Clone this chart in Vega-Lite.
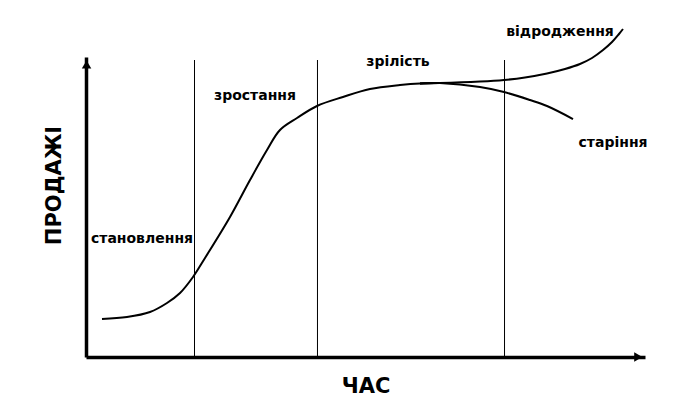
{
  "$schema": "https://vega.github.io/schema/vega-lite/v6.json",
  "width": 559,
  "height": 300,
  "padding": {"left": 86, "top": 57, "right": 50, "bottom": 46},
  "autosize": {"type": "none"},
  "background": "white",
  "config": {"view": {"stroke": null}},
  "datasets": {
    "curve": [
      {"branch": "main", "k": 1, "t": 2.86, "s": 12.67},
      {"branch": "main", "k": 2, "t": 7.33, "s": 13.33},
      {"branch": "main", "k": 3, "t": 11.45, "s": 15.0},
      {"branch": "main", "k": 4, "t": 14.49, "s": 18.0},
      {"branch": "main", "k": 5, "t": 16.82, "s": 21.33},
      {"branch": "main", "k": 6, "t": 19.14, "s": 26.67},
      {"branch": "main", "k": 7, "t": 21.29, "s": 33.0},
      {"branch": "main", "k": 8, "t": 25.76, "s": 46.67},
      {"branch": "main", "k": 9, "t": 29.34, "s": 59.0},
      {"branch": "main", "k": 10, "t": 32.38, "s": 69.0},
      {"branch": "main", "k": 11, "t": 34.7, "s": 75.67},
      {"branch": "main", "k": 12, "t": 37.75, "s": 79.67},
      {"branch": "main", "k": 13, "t": 41.32, "s": 83.67},
      {"branch": "main", "k": 14, "t": 45.97, "s": 86.67},
      {"branch": "main", "k": 15, "t": 50.8, "s": 89.33},
      {"branch": "main", "k": 16, "t": 56.17, "s": 90.67},
      {"branch": "main", "k": 17, "t": 59.75, "s": 91.2},
      {"branch": "main", "k": 18, "t": 63.3, "s": 91.3},
      {"branch": "revival", "k": 1, "t": 59.75, "s": 91.2},
      {"branch": "revival", "k": 2, "t": 63.3, "s": 91.3},
      {"branch": "revival", "k": 3, "t": 70.48, "s": 91.8},
      {"branch": "revival", "k": 4, "t": 74.78, "s": 92.33},
      {"branch": "revival", "k": 5, "t": 78.53, "s": 93.17},
      {"branch": "revival", "k": 6, "t": 82.47, "s": 94.5},
      {"branch": "revival", "k": 7, "t": 85.69, "s": 96.0},
      {"branch": "revival", "k": 8, "t": 88.37, "s": 97.67},
      {"branch": "revival", "k": 9, "t": 90.52, "s": 99.67},
      {"branch": "revival", "k": 10, "t": 92.49, "s": 102.33},
      {"branch": "revival", "k": 11, "t": 94.1, "s": 105.0},
      {"branch": "revival", "k": 12, "t": 95.35, "s": 107.67},
      {"branch": "revival", "k": 13, "t": 96.06, "s": 109.33},
      {"branch": "aging", "k": 1, "t": 59.75, "s": 91.2},
      {"branch": "aging", "k": 2, "t": 63.3, "s": 91.3},
      {"branch": "aging", "k": 3, "t": 70.48, "s": 90.0},
      {"branch": "aging", "k": 4, "t": 74.78, "s": 88.33},
      {"branch": "aging", "k": 5, "t": 79.43, "s": 85.67},
      {"branch": "aging", "k": 6, "t": 82.47, "s": 83.67},
      {"branch": "aging", "k": 7, "t": 87.12, "s": 79.33}
    ],
    "stages": [
      {"t": 19.41, "s0": 0, "s1": 99},
      {"t": 41.41, "s0": 0, "s1": 99},
      {"t": 74.87, "s0": 0, "s1": 99}
    ],
    "labels": [
      {"label": "становлення", "t": 10.02, "s": 39.5},
      {"label": "зростання", "t": 30.23, "s": 87.0},
      {"label": "зрілість", "t": 55.81, "s": 98.33},
      {"label": "відродження", "t": 84.8, "s": 108.33},
      {"label": "старіння", "t": 94.28, "s": 71.33}
    ],
    "arrows": [
      {"t": 0.1, "s": 97.5, "dir": "up"},
      {"t": 98.8, "s": 0, "dir": "right"}
    ]
  },
  "layer": [
    {
      "data": {"name": "stages"},
      "mark": {"type": "rule", "color": "black", "strokeWidth": 1, "clip": false},
      "encoding": {
        "x": {"field": "t", "type": "quantitative", "scale": {"domain": [0, 100], "nice": false},
          "axis": {"title": "ЧАС", "domain": true, "domainColor": "black", "domainWidth": 3.5, "ticks": false, "labels": false, "grid": false,
            "titleFont": "DejaVu Sans", "titleFontSize": 21, "titleFontWeight": "bold", "titleColor": "black", "titlePadding": 18}},
        "y": {"field": "s0", "type": "quantitative", "scale": {"domain": [0, 100], "nice": false},
          "axis": {"title": "ПРОДАЖІ", "domain": true, "domainColor": "black", "domainWidth": 3.5, "ticks": false, "labels": false, "grid": false,
            "titleFont": "DejaVu Sans", "titleFontSize": 21, "titleFontWeight": "bold", "titleColor": "black", "titlePadding": 22, "titleY": 128}},
        "y2": {"field": "s1"}
      }
    },
    {
      "data": {"name": "curve"},
      "mark": {"type": "line", "color": "black", "strokeWidth": 2, "interpolate": "catmull-rom", "clip": false},
      "encoding": {
        "x": {"field": "t", "type": "quantitative"},
        "y": {"field": "s", "type": "quantitative"},
        "detail": {"field": "branch"},
        "order": {"field": "k", "type": "quantitative"}
      }
    },
    {
      "data": {"name": "labels"},
      "mark": {"type": "text", "font": "DejaVu Sans", "fontSize": 14, "fontWeight": "bold", "color": "black", "align": "center", "baseline": "middle", "clip": false},
      "encoding": {
        "x": {"field": "t", "type": "quantitative"},
        "y": {"field": "s", "type": "quantitative"},
        "text": {"field": "label"}
      }
    },
    {
      "data": {"name": "arrows"},
      "mark": {"type": "point", "filled": true, "color": "black", "opacity": 1, "size": 90, "clip": false},
      "encoding": {
        "x": {"field": "t", "type": "quantitative"},
        "y": {"field": "s", "type": "quantitative"},
        "shape": {"field": "dir", "type": "nominal", "scale": {"domain": ["up", "right"], "range": ["triangle-up", "triangle-right"]}, "legend": null}
      }
    }
  ]
}
